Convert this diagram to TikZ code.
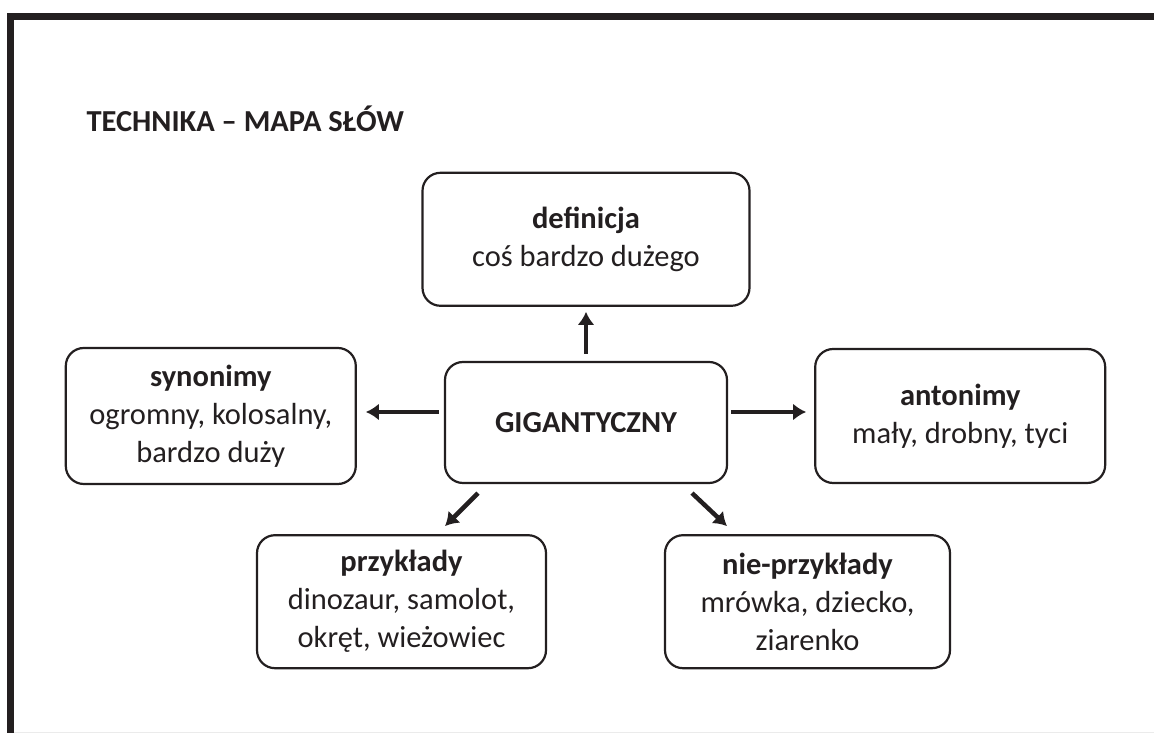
\documentclass[tikz,border=0pt]{standalone}
\usepackage{fontspec}
\setmainfont{Carlito}
\usetikzlibrary{positioning,arrows.meta}
\definecolor{ink}{RGB}{35,31,32}

\begin{document}
\begin{tikzpicture}
		[x=1pt, y=1pt, font=\fontsize{30.5}{38}\selectfont, color=ink,
		% STYLES
		% The wordbox style is used for the boxes round the main word
		wordbox/.style={rectangle, draw=ink, line width=2.2pt, rounded corners=18pt, align=center, inner sep=0pt, minimum width=289pt, minimum height=134pt},
		% the main word in the middle
		mainword/.style={wordbox, minimum width=282pt, minimum height=121pt, font=\fontsize{30.5}{38}\selectfont\bfseries},
		% the title
		heading/.style={anchor=base west, font=\fontsize{30.5}{38}\selectfont\bfseries},
		% arrows from the main word
		link/.style={-{Latex[length=13pt,width=17pt]}, line width=4.5pt, draw=ink}]

		% Frame
		\useasboundingbox (0,0) rectangle (1154,733);
		\fill[ink] (7,0) rectangle (14,720);
		\fill[ink] (7,713) rectangle (1154,720);
		\draw[black!8, line width=1pt] (14,0.5) -- (1154,0.5);

		\node[heading] (title) at (83,601) {TECHNIKA – MAPA SŁÓW};

		% Draw the boxes
		\node [mainword] (gig) at (586,310.5) {GIGANTYCZNY};

		\node [wordbox, minimum width=327pt, minimum height=133pt, above=54pt of gig] (def) {\textbf{definicja}\\coś bardzo dużego};
		\node [wordbox, minimum width=290pt, minimum height=136pt, left=87pt of gig, yshift=6.5pt] (syn) {\textbf{synonimy}\\ogromny, kolosalny,\\bardzo duży};
		\node [wordbox, minimum width=290pt, right=86pt of gig, yshift=6.5pt] (ant) {\textbf{antonimy}\\mały, drobny, tyci};

		\node [wordbox, minimum height=133pt, below=50pt of gig, xshift=-184.5pt] (prz) {\textbf{przykłady}\\dinozaur, samolot,\\okręt, wieżowiec};
		\node [wordbox, minimum width=285pt, minimum height=133pt, below=50pt of gig, xshift=221.5pt] (nie) {\textbf{nie-przykłady}\\mrówka, dziecko,\\ziarenko};

		%%%%%%%%%%%%%%%%
		% Draw the links from the main word
		\draw[link, shorten <=7pt, shorten >=5pt] (gig.north) -- (def.south);
		\draw[link, shorten <=5pt, shorten >=9pt] ([yshift=10.5pt]gig.west) -- ([yshift=4pt]syn.east);
		\draw[link, shorten <=3pt, shorten >=8pt] ([yshift=10.5pt]gig.east) -- ([yshift=4pt]ant.west);
		\draw[link] ([shift={(-108pt,-9pt)}]gig.south) -- ([shift={(43.5pt,8pt)}]prz.north);
		\draw[link] ([shift={(106pt,-9pt)}]gig.south) -- ([shift={(-80.5pt,8pt)}]nie.north);
\end{tikzpicture}
\end{document}
